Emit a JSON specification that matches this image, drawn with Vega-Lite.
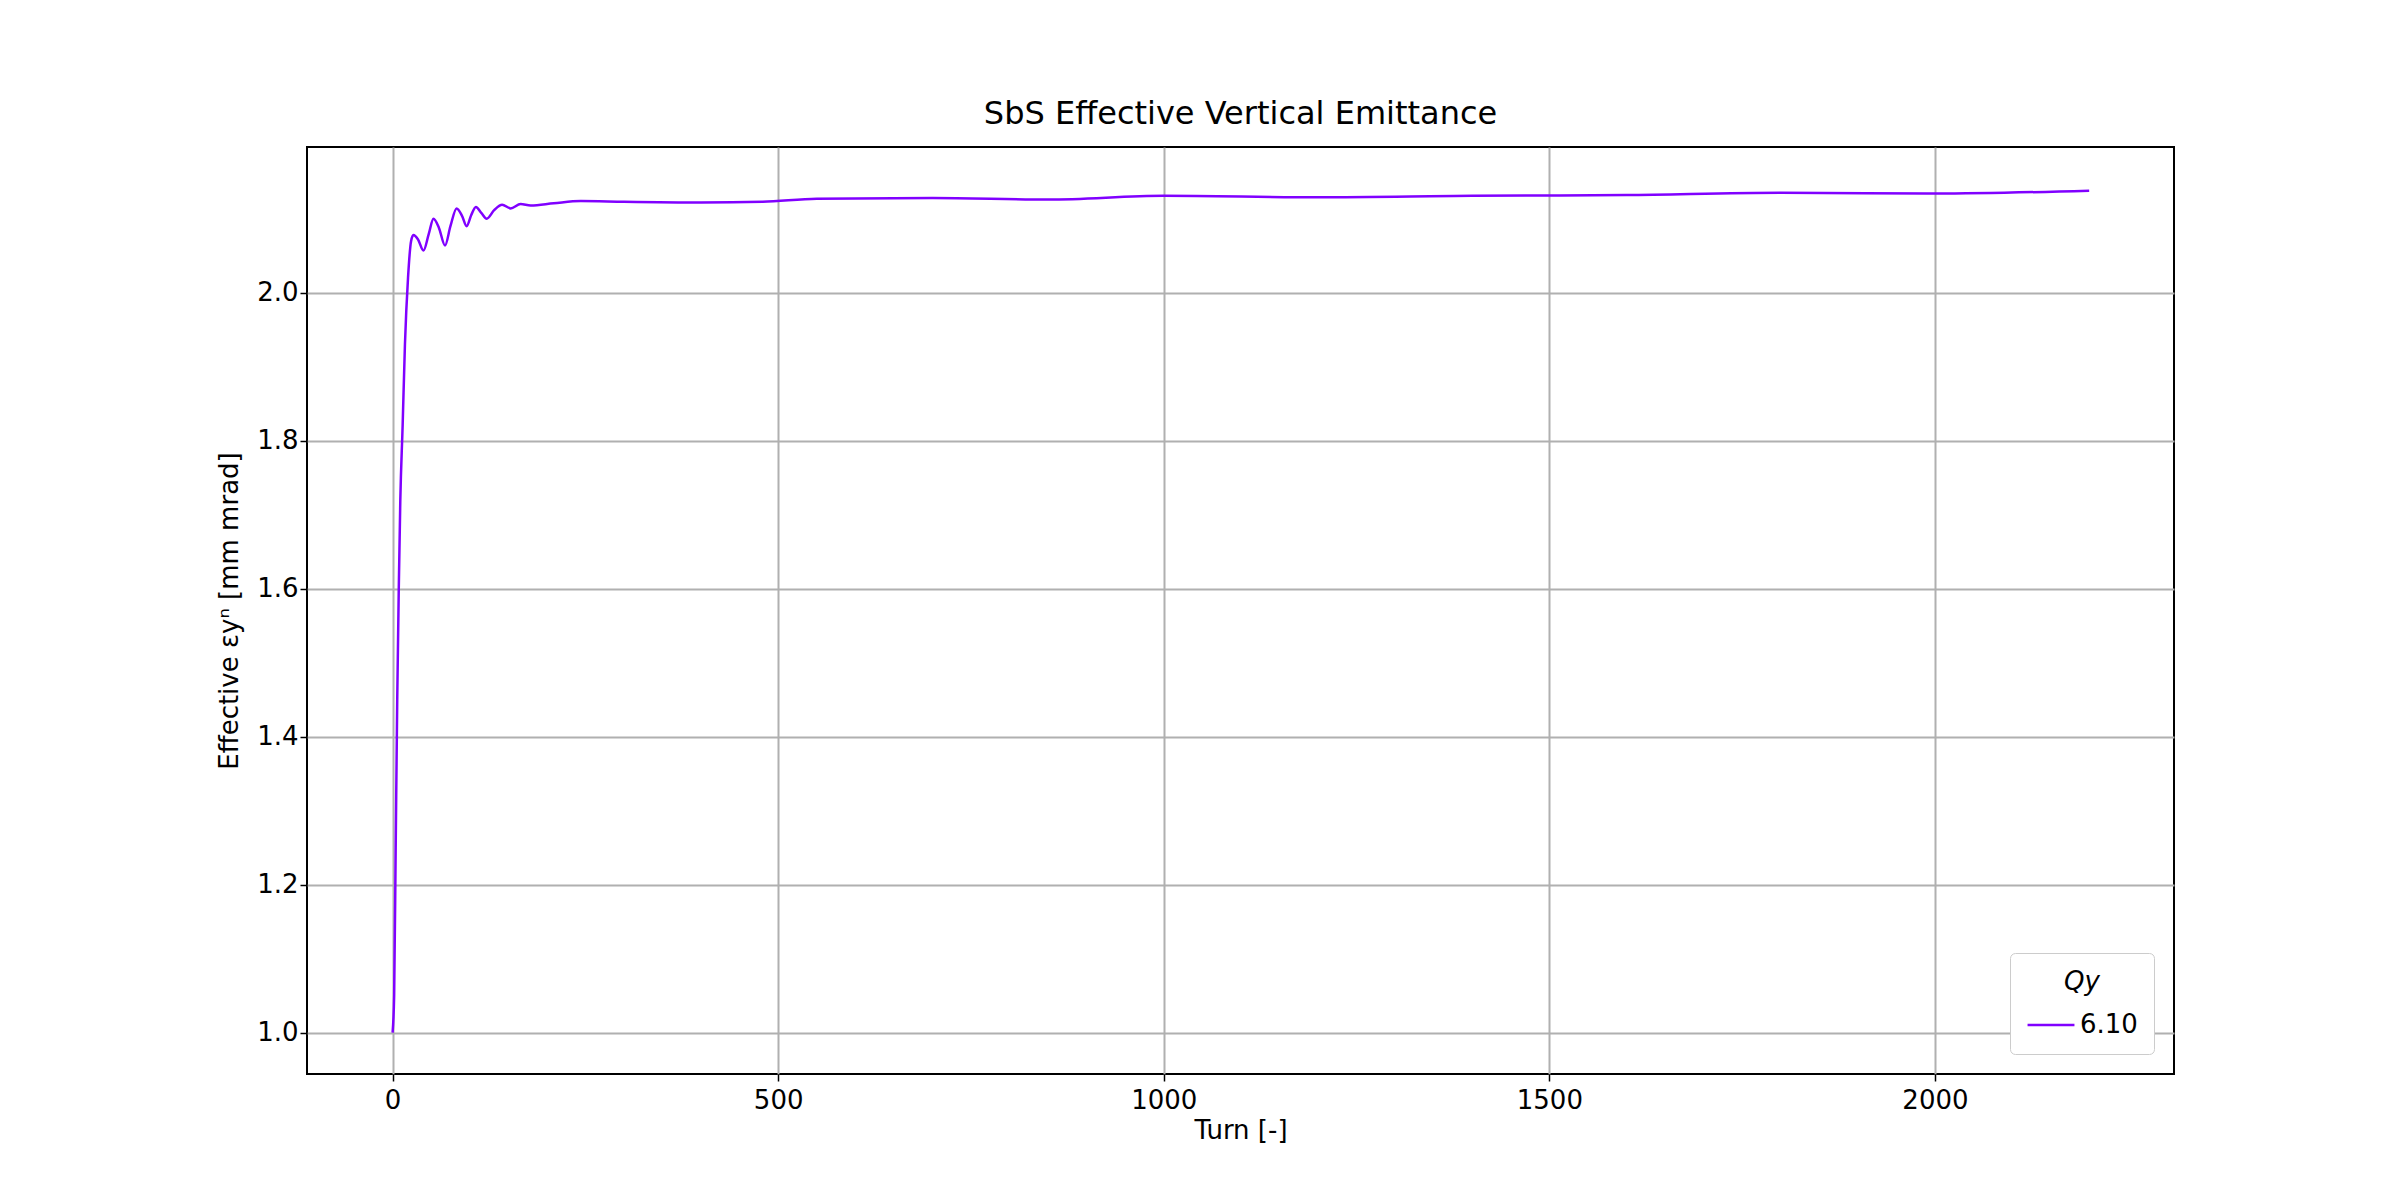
{
  "$schema": "https://vega.github.io/schema/vega-lite/v6.json",
  "width": 1867,
  "height": 927,
  "padding": {"left": 216, "top": 98, "right": 200, "bottom": 30},
  "background": "white",
  "config": {
    "font": "DejaVu Sans",
    "view": {"stroke": "black", "strokeWidth": 2},
    "axis": {
      "labelFont": "DejaVu Sans", "titleFont": "DejaVu Sans",
      "labelFontSize": 26, "titleFontSize": 26, "titleFontWeight": "normal",
      "labelColor": "black", "titleColor": "black",
      "gridColor": "#b0b0b0", "gridWidth": 2,
      "domain": false, "tickColor": "black", "tickSize": 7, "tickWidth": 1.5
    }
  },
  "title": {"text": "SbS Effective Vertical Emittance", "fontSize": 32, "fontWeight": "normal", "font": "DejaVu Sans", "offset": 16},
  "data": {"values": [
    {"turn": 0, "eps": 1.0, "Qy": "6.10"},
    {"turn": 2, "eps": 1.05, "Qy": "6.10"},
    {"turn": 4, "eps": 1.25, "Qy": "6.10"},
    {"turn": 6, "eps": 1.45, "Qy": "6.10"},
    {"turn": 8, "eps": 1.6, "Qy": "6.10"},
    {"turn": 10, "eps": 1.72, "Qy": "6.10"},
    {"turn": 13, "eps": 1.82, "Qy": "6.10"},
    {"turn": 16, "eps": 1.93, "Qy": "6.10"},
    {"turn": 20, "eps": 2.02, "Qy": "6.10"},
    {"turn": 24, "eps": 2.07, "Qy": "6.10"},
    {"turn": 27, "eps": 2.078, "Qy": "6.10"},
    {"turn": 33, "eps": 2.072, "Qy": "6.10"},
    {"turn": 40, "eps": 2.057, "Qy": "6.10"},
    {"turn": 47, "eps": 2.08, "Qy": "6.10"},
    {"turn": 53, "eps": 2.1, "Qy": "6.10"},
    {"turn": 60, "eps": 2.088, "Qy": "6.10"},
    {"turn": 68, "eps": 2.064, "Qy": "6.10"},
    {"turn": 75, "eps": 2.09, "Qy": "6.10"},
    {"turn": 83, "eps": 2.114, "Qy": "6.10"},
    {"turn": 90, "eps": 2.104, "Qy": "6.10"},
    {"turn": 96, "eps": 2.09, "Qy": "6.10"},
    {"turn": 102, "eps": 2.105, "Qy": "6.10"},
    {"turn": 108, "eps": 2.116, "Qy": "6.10"},
    {"turn": 115, "eps": 2.108, "Qy": "6.10"},
    {"turn": 122, "eps": 2.1, "Qy": "6.10"},
    {"turn": 132, "eps": 2.112, "Qy": "6.10"},
    {"turn": 142, "eps": 2.119, "Qy": "6.10"},
    {"turn": 153, "eps": 2.114, "Qy": "6.10"},
    {"turn": 166, "eps": 2.12, "Qy": "6.10"},
    {"turn": 179, "eps": 2.118, "Qy": "6.10"},
    {"turn": 209, "eps": 2.121, "Qy": "6.10"},
    {"turn": 244, "eps": 2.124, "Qy": "6.10"},
    {"turn": 300, "eps": 2.123, "Qy": "6.10"},
    {"turn": 400, "eps": 2.122, "Qy": "6.10"},
    {"turn": 480, "eps": 2.123, "Qy": "6.10"},
    {"turn": 550, "eps": 2.127, "Qy": "6.10"},
    {"turn": 700, "eps": 2.128, "Qy": "6.10"},
    {"turn": 850, "eps": 2.126, "Qy": "6.10"},
    {"turn": 1000, "eps": 2.131, "Qy": "6.10"},
    {"turn": 1200, "eps": 2.129, "Qy": "6.10"},
    {"turn": 1400, "eps": 2.131, "Qy": "6.10"},
    {"turn": 1600, "eps": 2.132, "Qy": "6.10"},
    {"turn": 1800, "eps": 2.135, "Qy": "6.10"},
    {"turn": 2000, "eps": 2.134, "Qy": "6.10"},
    {"turn": 2200, "eps": 2.138, "Qy": "6.10"}
  ]},
  "mark": {"type": "line", "strokeWidth": 2.5, "clip": true, "interpolate": "monotone"},
  "encoding": {
    "x": {"field": "turn", "type": "quantitative", "title": "Turn [-]",
      "scale": {"domain": [-111, 2310], "nice": false, "zero": false},
      "axis": {"values": [0, 500, 1000, 1500, 2000], "format": "d", "labelPadding": 6}},
    "y": {"field": "eps", "type": "quantitative", "title": "Effective εyⁿ [mm mrad]",
      "scale": {"domain": [0.944, 2.197], "nice": false, "zero": false},
      "axis": {"values": [1.0, 1.2, 1.4, 1.6, 1.8, 2.0], "format": ".1f", "titlePadding": 14}},
    "color": {"field": "Qy", "type": "nominal",
      "scale": {"range": ["#8000ff"]},
      "legend": {"title": "Qy", "titleFontStyle": "italic", "titleFont": "DejaVu Sans", "titleFontWeight": "normal",
        "titleFontSize": 26, "titleAnchor": "middle", "labelFontSize": 26, "labelFont": "DejaVu Sans",
        "orient": "bottom-right", "symbolType": "stroke", "symbolSize": 2200, "symbolStrokeWidth": 2.5,
        "strokeColor": "#cccccc", "fillColor": "white", "padding": 16, "cornerRadius": 5, "offset": 20}}
  }
}
